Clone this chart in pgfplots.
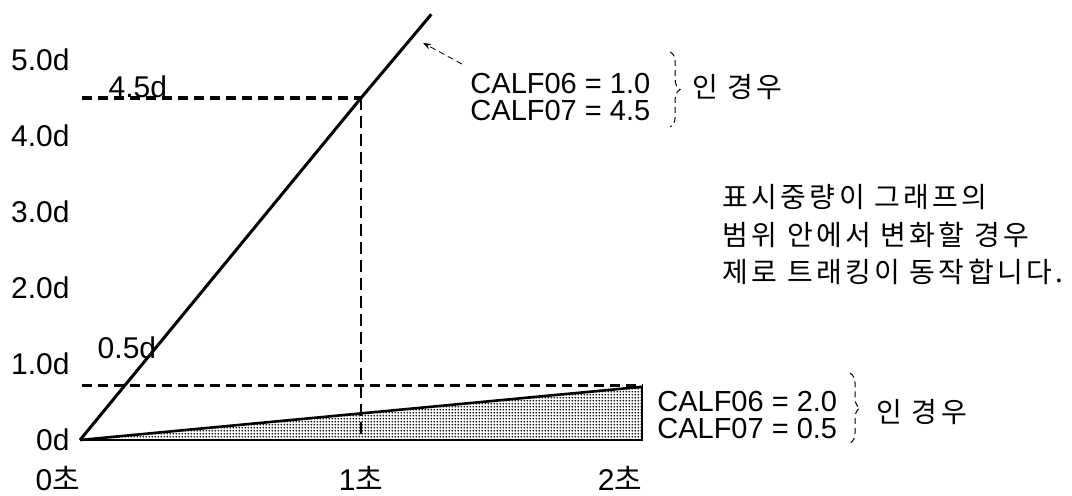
\documentclass[border=0pt]{standalone}
\usepackage{fontspec}
\setmainfont{Liberation Sans}
\newfontfamily\kr[LetterSpace=12]{Noto Sans CJK KR}
\usepackage{pgfplots}
\pgfplotsset{compat=1.18}
\usetikzlibrary{patterns.meta,decorations.pathreplacing,arrows.meta}
\tikzdeclarepattern{
  name=finedots,
  type=uncolored,
  bottom left={(0pt,0pt)},
  top right={(1.6pt,1.6pt)},
  tile size={(1.6pt,1.6pt)},
  code={\pgfpathcircle{\pgfpoint{0.8pt}{0.8pt}}{0.52pt}\pgfusepath{fill}}
}
\begin{document}
\begin{tikzpicture}
\begin{axis}[
  x=140.5pt, y=38pt,
  xmin=0, xmax=2, ymin=0, ymax=5.7,
  axis line style={draw=none},
  major tick length=0pt,
  clip=false,
  xtick={0,1,2},
  xticklabels={{\makebox[0pt][r]{0{\kr 초}}},{1{\kr 초}},{\makebox[0pt][r]{2{\kr 초}}}},
  ytick={0,1,2,3,4,5},
  yticklabels={0d,1.0d,2.0d,3.0d,4.0d,5.0d},
  tick label style={font=\fontsize{15}{17}\selectfont},
  yticklabel style={anchor=east, inner sep=0pt, xshift=-5pt},
  xticklabel style={anchor=base, inner sep=0pt, yshift=-25pt},
]
% shaded triangle
\addplot[draw=none, pattern=finedots, pattern color=black] coordinates {(0,0) (2,0.7)} \closedcycle;
\addplot[black, line width=1pt] coordinates {(0,0) (2,0) (2,0.7)};
% dashed guides
\addplot[black, line width=1.6pt, dash pattern=on 5pt off 3pt] coordinates {(0.007,4.5) (1,4.5)};
\addplot[black, line width=0.85pt, dash pattern=on 6pt off 3pt] coordinates {(1,4.5) (1,0)};
\addplot[black, line width=1.6pt, dash pattern=on 5pt off 3pt] coordinates {(0.007,0.715) (2,0.715)};
% lines
\addplot[black, line width=1.3pt] coordinates {(0,0) (2,0.7)};
\addplot[black, line width=1.5pt] coordinates {(0,0) (1,4.5) (1.25,5.6)};
% labels
\node[anchor=base, inner sep=0pt, font=\fontsize{15}{17}\selectfont] at (axis cs:0.206,4.50) {4.5d};
\node[anchor=center, inner sep=0pt, font=\fontsize{15}{17}\selectfont] at (axis cs:0.167,1.21) {0.5d};
\draw[-{Stealth[length=4pt,width=3pt]}, line width=0.4pt, densely dashed] (axis cs:1.359,4.947) -- (axis cs:1.221,5.224);
% top annotation
\node[anchor=west, align=left, inner sep=0pt, font=\fontsize{14.5}{13.5}\selectfont] at (axis cs:1.388,4.507) {CALF06 = 1.0\\CALF07 = 4.5};
\draw[decorate, decoration={brace, amplitude=5pt}, line width=0.5pt, densely dashed] (axis cs:2.10,5.105) -- (axis cs:2.10,4.118);
\node[anchor=west, inner sep=0pt, font=\kr\fontsize{14}{16}\selectfont] at (axis cs:2.178,4.645) {인 경우};
% bottom annotation
\node[anchor=west, align=left, inner sep=0pt, font=\fontsize{14.5}{13.5}\selectfont] at (axis cs:2.053,0.329) {CALF06 = 2.0\\CALF07 = 0.5};
\draw[decorate, decoration={brace, amplitude=5pt}, line width=0.5pt, densely dashed] (axis cs:2.74,0.88) -- (axis cs:2.74,-0.04);
\node[anchor=west, inner sep=0pt, font=\kr\fontsize{14}{16}\selectfont] at (axis cs:2.833,0.368) {인 경우};
% note
\node[anchor=west, align=left, inner sep=0pt, font=\kr\fontsize{14}{18.75}\selectfont] at (axis cs:2.285,2.70) {표시중량이 그래프의\\범위 안에서 변화할 경우\\제로 트래킹이 동작합니다.};
% bounding box corners
\coordinate (bbl) at (axis cs:-0.2847,-0.7237);
\coordinate (btr) at (axis cs:3.530,5.789);
\end{axis}
\pgfresetboundingbox
\path[use as bounding box] (bbl) rectangle (btr);
\end{tikzpicture}
\end{document}
